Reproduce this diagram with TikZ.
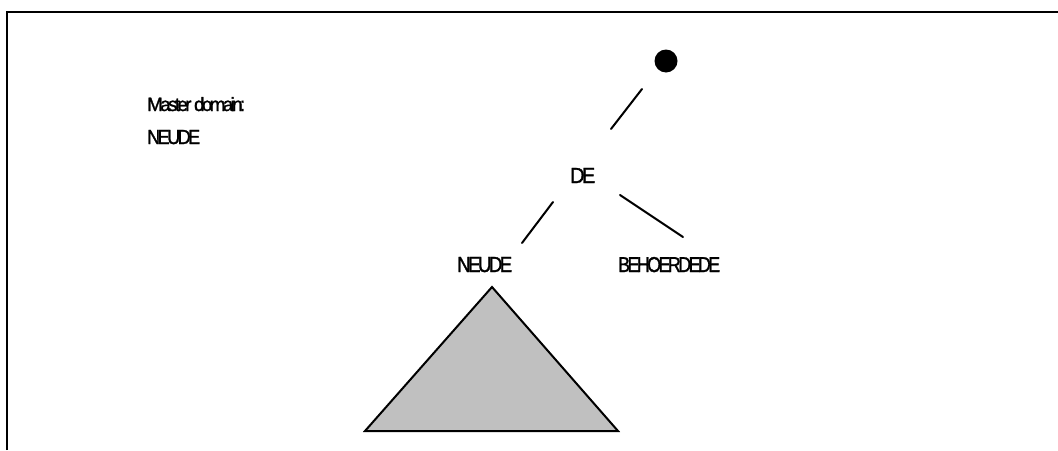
\documentclass[tikz,border=0pt]{standalone}
\usepackage{fontspec}
\setmainfont{Liberation Sans}
\newfontfamily\squeezed[LetterSpace=-14,FakeBold=1.5]{Liberation Sans}
\usepackage{graphicx}
\begin{document}
\begin{tikzpicture}[x=1pt,y=-1pt,
  lbl/.style={anchor=base west,inner sep=0pt,font=\squeezed\fontsize{20}{24}\selectfont},
  seg/.style={line width=2pt,line cap=round},
  frame/.style={line width=2.5pt}]
\useasboundingbox (0,0) rectangle (1058,450);
% frame (top and left only)
\coordinate (f1) at (7,450);
\coordinate (f2) at (7,12);
\coordinate (f3) at (1058,12);
\draw[frame] (f1) -- (f2) -- (f3);
% legend text
\node[lbl] (master) at (147,111) {\resizebox{98pt}{14pt}{Master domain:}};
\node[lbl] (mneu) at (147,144) {\resizebox{53pt}{14pt}{NEUDE}};
% tree
\node[circle,fill=black,inner sep=0pt,minimum size=23pt] (root) at (666,61) {};
\node[lbl] (de) at (570,183) {\resizebox{25pt}{15pt}{DE}};
\node[lbl] (neu) at (457,272) {\resizebox{55pt}{15pt}{NEUDE}};
\node[lbl] (beh) at (618,272) {\resizebox{102pt}{15pt}{BEHOERDEDE}};
% edge end points
\coordinate (r1) at (642,89);
\coordinate (r2) at (611,129);
\coordinate (d1) at (553,202);
\coordinate (d2) at (522,243);
\coordinate (d3) at (620,195);
\coordinate (d4) at (683,237);
\draw[seg] (r1) -- (r2);
\draw[seg] (d1) -- (d2);
\draw[seg] (d3) -- (d4);
% subtree triangle
\coordinate (ta) at (492,287);
\coordinate (tl) at (365,431);
\coordinate (tr) at (618,431);
\draw[line width=2pt,fill={rgb,255:red,192;green,192;blue,192},line join=miter] (ta) -- (tr) -- (tl) -- cycle;
\end{tikzpicture}
\end{document}
